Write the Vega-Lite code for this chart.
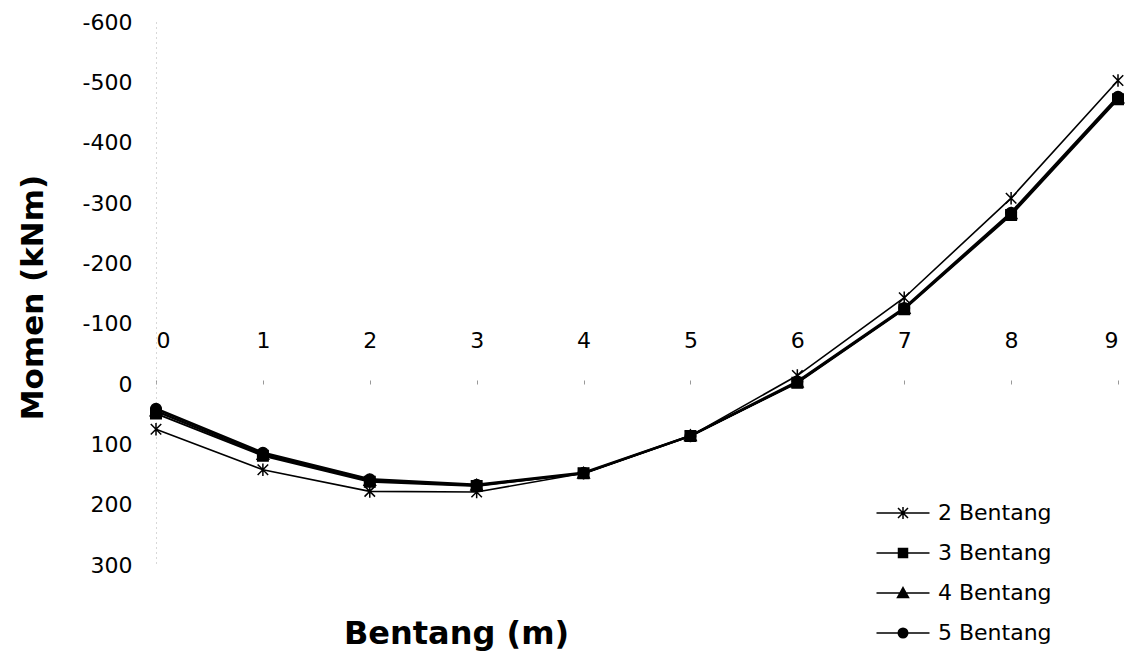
{
  "$schema": "https://vega.github.io/schema/vega-lite/v6.json",
  "autosize": "none",
  "width": 962,
  "height": 543,
  "padding": {"left": 156, "top": 22, "right": 16, "bottom": 90},
  "background": "white",
  "config": {
    "font": "DejaVu Sans",
    "view": {"stroke": null}
  },
  "data": {
    "values": [
      {"bentang": 0, "momen": 75, "seri": "2 Bentang"},
      {"bentang": 1, "momen": 142, "seri": "2 Bentang"},
      {"bentang": 2, "momen": 178, "seri": "2 Bentang"},
      {"bentang": 3, "momen": 179, "seri": "2 Bentang"},
      {"bentang": 4, "momen": 148, "seri": "2 Bentang"},
      {"bentang": 5, "momen": 86, "seri": "2 Bentang"},
      {"bentang": 6, "momen": -14, "seri": "2 Bentang"},
      {"bentang": 7, "momen": -143, "seri": "2 Bentang"},
      {"bentang": 8, "momen": -308, "seri": "2 Bentang"},
      {"bentang": 9, "momen": -503, "seri": "2 Bentang"},
      {"bentang": 0, "momen": 49, "seri": "3 Bentang"},
      {"bentang": 1, "momen": 119, "seri": "3 Bentang"},
      {"bentang": 2, "momen": 162, "seri": "3 Bentang"},
      {"bentang": 3, "momen": 169, "seri": "3 Bentang"},
      {"bentang": 4, "momen": 148, "seri": "3 Bentang"},
      {"bentang": 5, "momen": 86, "seri": "3 Bentang"},
      {"bentang": 6, "momen": -2, "seri": "3 Bentang"},
      {"bentang": 7, "momen": -124, "seri": "3 Bentang"},
      {"bentang": 8, "momen": -280, "seri": "3 Bentang"},
      {"bentang": 9, "momen": -472, "seri": "3 Bentang"},
      {"bentang": 0, "momen": 45, "seri": "4 Bentang"},
      {"bentang": 1, "momen": 117, "seri": "4 Bentang"},
      {"bentang": 2, "momen": 160, "seri": "4 Bentang"},
      {"bentang": 3, "momen": 168, "seri": "4 Bentang"},
      {"bentang": 4, "momen": 148, "seri": "4 Bentang"},
      {"bentang": 5, "momen": 86, "seri": "4 Bentang"},
      {"bentang": 6, "momen": -3, "seri": "4 Bentang"},
      {"bentang": 7, "momen": -125, "seri": "4 Bentang"},
      {"bentang": 8, "momen": -282, "seri": "4 Bentang"},
      {"bentang": 9, "momen": -474, "seri": "4 Bentang"},
      {"bentang": 0, "momen": 41, "seri": "5 Bentang"},
      {"bentang": 1, "momen": 114, "seri": "5 Bentang"},
      {"bentang": 2, "momen": 158, "seri": "5 Bentang"},
      {"bentang": 3, "momen": 167, "seri": "5 Bentang"},
      {"bentang": 4, "momen": 147, "seri": "5 Bentang"},
      {"bentang": 5, "momen": 86, "seri": "5 Bentang"},
      {"bentang": 6, "momen": -4, "seri": "5 Bentang"},
      {"bentang": 7, "momen": -126, "seri": "5 Bentang"},
      {"bentang": 8, "momen": -284, "seri": "5 Bentang"},
      {"bentang": 9, "momen": -476, "seri": "5 Bentang"}
    ]
  },
  "encoding": {
    "x": {
      "field": "bentang",
      "type": "quantitative",
      "scale": {"domain": [0, 9], "nice": false, "zero": false},
      "axis": {
        "orient": "top",
        "offset": -362,
        "values": [0, 1, 2, 3, 4, 5, 6, 7, 8, 9],
        "format": "d",
        "grid": false,
        "domain": false,
        "ticks": true,
        "tickSize": 4,
        "tickColor": "#999999",
        "labelPadding": 40,
        "labelBaseline": "middle",
        "labelFont": "DejaVu Sans",
        "labelFontSize": 22,
        "labelColor": "#000000",
        "title": "Bentang (m)",
        "titleFont": "DejaVu Sans",
        "titleFontSize": 32,
        "titleFontWeight": "bold",
        "titleColor": "#000000",
        "titleX": 300,
        "titleY": 249,
        "titleAlign": "center",
        "titleBaseline": "middle",
        "titleAnchor": null
      }
    },
    "y": {
      "field": "momen",
      "type": "quantitative",
      "scale": {"domain": [-600, 300], "reverse": true, "nice": false, "zero": false},
      "axis": {
        "values": [-600, -500, -400, -300, -200, -100, 0, 100, 200, 300],
        "labelExpr": "'' + datum.value",
        "grid": false,
        "ticks": false,
        "domain": true,
        "domainColor": "#b0b0b0",
        "domainDash": [1, 4],
        "labelPadding": 24,
        "labelFont": "DejaVu Sans",
        "labelFontSize": 22,
        "labelColor": "#000000",
        "title": "Momen (kNm)",
        "titleFont": "DejaVu Sans",
        "titleFontSize": 31,
        "titleFontWeight": "bold",
        "titleColor": "#000000",
        "titleAngle": 270,
        "titleX": -123,
        "titleY": 275,
        "titleAlign": "center",
        "titleBaseline": "middle"
      }
    }
  },
  "layer": [
    {
      "mark": {"type": "line", "color": "#000000"},
      "encoding": {
        "detail": {"field": "seri", "type": "nominal"},
        "order": {"field": "bentang", "type": "quantitative"},
        "strokeWidth": {
          "field": "seri",
          "type": "nominal",
          "scale": {
            "domain": ["2 Bentang", "3 Bentang", "4 Bentang", "5 Bentang"],
            "range": [1.6, 2.6, 2.6, 2.6]
          },
          "legend": null
        }
      }
    },
    {
      "mark": {
        "type": "point",
        "filled": true,
        "color": "#000000",
        "stroke": "#000000",
        "strokeWidth": 1.5,
        "size": 110,
        "opacity": 1
      },
      "encoding": {
        "shape": {
          "field": "seri",
          "type": "nominal",
          "scale": {
            "domain": ["2 Bentang", "3 Bentang", "4 Bentang", "5 Bentang"],
            "range": [
              "M-1,-1L1,1M-1,1L1,-1M0,-1.2L0,1.2",
              "M-1,-1L1,-1L1,1L-1,1Z",
              "M0,-1.1L1.1,0.9L-1.1,0.9Z",
              "circle"
            ]
          },
          "legend": null
        }
      }
    },
    {
      "mark": {
        "type": "point",
        "filled": false,
        "color": "#000000",
        "strokeWidth": 1.5,
        "size": 100,
        "opacity": 0
      },
      "encoding": {
        "shape": {
          "field": "seri",
          "type": "nominal",
          "scale": {
            "domain": ["2 Bentang", "3 Bentang", "4 Bentang", "5 Bentang"],
            "range": [
              "M-5.3,0L5.3,0M-1,-1L1,1M-1,1L1,-1M0,-1.2L0,1.2",
              "M-5.3,0L5.3,0M-0.9,-0.9L0.9,-0.9L0.9,0.9L-0.9,0.9ZM-0.9,-0.6L0.9,-0.6M-0.9,-0.3L0.9,-0.3M-0.9,0.3L0.9,0.3M-0.9,0.6L0.9,0.6",
              "M-5.3,0L5.3,0M0,-1.1L1.1,0.9L-1.1,0.9ZM-0.28,-0.6L0.28,-0.6M-0.41,-0.35L0.41,-0.35M-0.55,-0.1L0.55,-0.1M-0.69,0.15L0.69,0.15M-0.83,0.4L0.83,0.4M-0.96,0.65L0.96,0.65",
              "M-5.3,0L5.3,0M0.95,0A0.95,0.95,0,1,1,-0.95,0A0.95,0.95,0,1,1,0.95,0ZM-0.62,-0.72L0.62,-0.72M-0.82,-0.48L0.82,-0.48M-0.92,-0.24L0.92,-0.24M-0.92,0.24L0.92,0.24M-0.82,0.48L0.82,0.48M-0.62,0.72L0.62,0.72"
            ]
          },
          "legend": {
            "title": null,
            "orient": "none",
            "legendX": 736,
            "legendY": 480,
            "padding": 0,
            "symbolSize": 100,
            "symbolOpacity": 1,
            "symbolStrokeWidth": 1.5,
            "labelFont": "DejaVu Sans",
            "labelFontSize": 22,
            "labelColor": "#000000",
            "labelOffset": 24,
            "rowPadding": 18
          }
        }
      }
    }
  ],
  "resolve": {
    "scale": {"shape": "independent"},
    "legend": {"shape": "independent"}
  }
}
